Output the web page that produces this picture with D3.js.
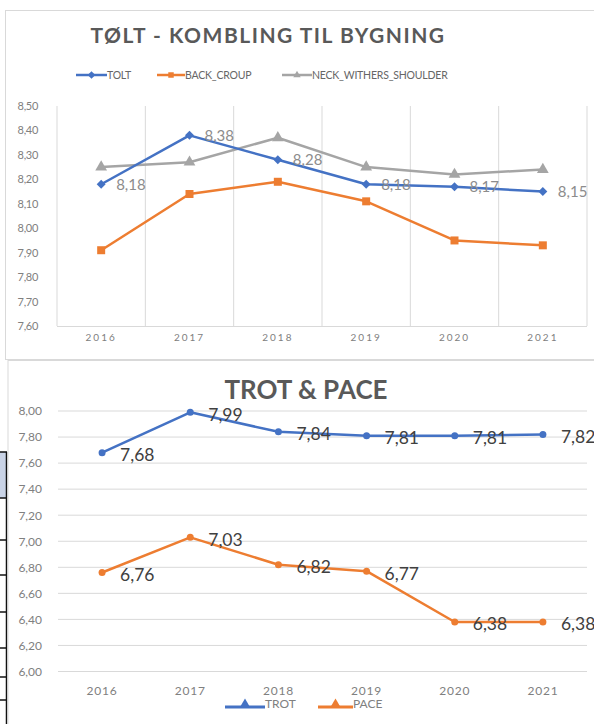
<!DOCTYPE html>
<html>
<head>
<meta charset="utf-8">
<script src="https://cdn.jsdelivr.net/npm/d3@7"></script>
<style>
html,body{margin:0;padding:0;background:#fff;}
svg{display:block;font-family:Lato,"Open Sans",sans-serif;}
</style>
</head>
<body>
<svg id="c" width="594" height="724"></svg>
<script>
// ---- data ----
const years = ["2016","2017","2018","2019","2020","2021"];
// top chart
const topTitle = "TØLT - KOMBLING TIL BYGNING";
const toltVals = [8.18, 8.38, 8.28, 8.18, 8.17, 8.15];
const backVals = [7.91, 8.14, 8.19, 8.11, 7.95, 7.93];
const neckVals = [8.25, 8.27, 8.37, 8.25, 8.22, 8.24];
const topTicks = [7.6, 7.7, 7.8, 7.9, 8.0, 8.1, 8.2, 8.3, 8.4, 8.5];
// bottom chart
const botTitle = "TROT & PACE";
const trotVals = [7.68, 7.99, 7.84, 7.81, 7.81, 7.82];
const paceVals = [6.76, 7.03, 6.82, 6.77, 6.38, 6.38];
const botTicks = [6.0, 6.2, 6.4, 6.6, 6.8, 7.0, 7.2, 7.4, 7.6, 7.8, 8.0];

const BLUE = "#4472c4", ORANGE = "#ed7d31", GRAY = "#a5a5a5";
const fmt = v => d3.format(".2f")(v).replace(".", ",");

const svg = d3.select("#c");

// left table fragment (background)
const frag = svg.append("g");
frag.append("rect").attr("x",0).attr("y",452).attr("width",6).attr("height",46).attr("fill","#c9d3e6");
frag.append("line").attr("x1",6.5).attr("x2",6.5).attr("y1",452).attr("y2",724).attr("stroke","#111").attr("stroke-width",1.5);
[452, 498, 540, 575, 612, 648, 677, 700].forEach(y => {
  frag.append("line").attr("x1",0).attr("x2",7).attr("y1",y).attr("y2",y).attr("stroke","#111").attr("stroke-width",1.5);
});

// chart frames
svg.append("rect").attr("x",5.5).attr("y",10.5).attr("width",600).attr("height",349).attr("fill","#fff").attr("stroke","#d9d9d9");
svg.append("rect").attr("x",8).attr("y",360.5).attr("width",600).attr("height",400).attr("fill","#fff").attr("stroke","#d9d9d9");

// ================= TOP CHART =================
const tx = d3.scaleBand().domain(years).range([57, 587]).padding(0);
const ty = d3.scaleLinear().domain([7.6, 8.5]).range([326, 106]);
const tcx = d => tx(d) + tx.bandwidth() / 2;

const topG = svg.append("g");
topG.append("text").attr("x",268).attr("y",43).attr("text-anchor","middle")
  .attr("font-size",21).attr("font-weight",700).attr("fill","#595959")
  .attr("letter-spacing","1.5px").text(topTitle);

// vertical gridlines at category boundaries
const bounds = years.map(y => tx(y)).concat([tx.range()[1]]);
topG.selectAll(".vg").data(bounds).enter().append("line")
  .attr("x1",d=>d).attr("x2",d=>d).attr("y1",ty(8.5)).attr("y2",ty(7.6))
  .attr("stroke","#d9d9d9").attr("stroke-width",1);
// x axis line
topG.append("line").attr("x1",57).attr("x2",587).attr("y1",ty(7.6)+0.5).attr("y2",ty(7.6)+0.5)
  .attr("stroke","#d9d9d9");

// y axis ticks
const tyAxis = d3.axisLeft(ty).tickValues(topTicks).tickFormat(fmt).tickSize(0).tickPadding(0);
const tyg = topG.append("g").attr("transform","translate(38,0)").call(tyAxis);
tyg.select(".domain").remove();
tyg.selectAll("text").attr("font-size",11).attr("fill","#808080").attr("font-family","Lato,sans-serif").attr("letter-spacing","-0.3px");

// x axis labels
const txAxis = d3.axisBottom(tx).tickSize(0).tickPadding(0);
const txg = topG.append("g").attr("transform","translate(0,334)").call(txAxis);
txg.select(".domain").remove();
txg.selectAll("text").attr("font-size",10).attr("fill","#808080").attr("font-family","Lato,sans-serif").attr("letter-spacing","2px").attr("dy","0.71em");

const line = (xs, ys) => d3.line().x((d,i)=>xs(years[i])).y(d=>ys(d));

function drawSeries(g, vals, color, width, xs, ys) {
  g.append("path").datum(vals).attr("d", line(xs, ys)).attr("fill","none")
    .attr("stroke",color).attr("stroke-width",width).attr("stroke-linejoin","round");
}
const square = d3.symbol().type(d3.symbolSquare);
const triangle = d3.symbol().type(d3.symbolTriangle);

drawSeries(topG, neckVals, GRAY, 2.5, tcx, ty);
drawSeries(topG, backVals, ORANGE, 2.5, tcx, ty);
drawSeries(topG, toltVals, BLUE, 2.5, tcx, ty);

topG.selectAll(".nm").data(neckVals).enter().append("path")
  .attr("d", triangle.size(60)()).attr("fill",GRAY)
  .attr("transform",(d,i)=>`translate(${tcx(years[i])},${ty(d)})`);
topG.selectAll(".bm").data(backVals).enter().append("path")
  .attr("d", square.size(64)()).attr("fill",ORANGE)
  .attr("transform",(d,i)=>`translate(${tcx(years[i])},${ty(d)})`);
topG.selectAll(".tm").data(toltVals).enter().append("path")
  .attr("d", square.size(40)()).attr("fill",BLUE)
  .attr("transform",(d,i)=>`translate(${tcx(years[i])},${ty(d)}) rotate(45)`);
// data labels (TOLT)
topG.selectAll(".tl").data(toltVals).enter().append("text")
  .attr("x",(d,i)=>tcx(years[i])+15).attr("y",(d)=>ty(d)).attr("dy","0.36em")
  .attr("font-size",15).attr("fill","#8c8c8c").text(fmt);

// top legend
const tLeg = [
  {name:"TOLT", color:BLUE, sym:square.size(18), rot:45, x1:76, x2:107},
  {name:"BACK_CROUP", color:ORANGE, sym:square.size(30), rot:0, x1:157, x2:185},
  {name:"NECK_WITHERS_SHOULDER", color:GRAY, sym:triangle.size(24), rot:0, x1:282, x2:312}
];
const tl = topG.selectAll(".lg").data(tLeg).enter().append("g");
tl.append("line").attr("x1",d=>d.x1).attr("x2",d=>d.x2).attr("y1",75).attr("y2",75)
  .attr("stroke",d=>d.color).attr("stroke-width",2.5);
tl.append("path").attr("d",d=>d.sym()).attr("fill",d=>d.color)
  .attr("transform",d=>`translate(${(d.x1+d.x2)/2},75) rotate(${d.rot})`);
tl.append("text").attr("x",d=>d.x2).attr("y",75).attr("dy","0.35em")
  .attr("font-size",10.5).attr("fill","#666").attr("letter-spacing","-0.2px").text(d=>d.name);

// ================= BOTTOM CHART =================
const bx = d3.scaleBand().domain(years).range([58, 587]).padding(0);
const by = d3.scaleLinear().domain([6.0, 8.0]).range([671.5, 411]);
const bcx = d => bx(d) + bx.bandwidth() / 2;

const botG = svg.append("g");
botG.append("text").attr("x",306).attr("y",399).attr("text-anchor","middle")
  .attr("font-size",26).attr("font-weight",700).attr("fill","#595959").text(botTitle);

// gridlines
botG.selectAll(".hg").data(botTicks).enter().append("line")
  .attr("x1",58).attr("x2",587).attr("y1",d=>by(d)).attr("y2",d=>by(d))
  .attr("stroke","#d9d9d9").attr("stroke-width",1);

const byAxis = d3.axisLeft(by).tickValues(botTicks).tickFormat(fmt).tickSize(0).tickPadding(0);
const byg = botG.append("g").attr("transform","translate(42,0)").call(byAxis);
byg.select(".domain").remove();
byg.selectAll("text").attr("font-size",12).attr("fill","#808080").attr("font-family","Lato,sans-serif");

const bxAxis = d3.axisBottom(bx).tickSize(0).tickPadding(0);
const bxg = botG.append("g").attr("transform","translate(0,686)").call(bxAxis);
bxg.select(".domain").remove();
bxg.selectAll("text").attr("font-size",12).attr("fill","#808080").attr("font-family","Lato,sans-serif").attr("letter-spacing","0.8px").attr("dy","0.71em");

drawSeries(botG, trotVals, BLUE, 2.5, bcx, by);
drawSeries(botG, paceVals, ORANGE, 2.5, bcx, by);
botG.selectAll(".trm").data(trotVals).enter().append("circle")
  .attr("cx",(d,i)=>bcx(years[i])).attr("cy",d=>by(d)).attr("r",3.5).attr("fill",BLUE);
botG.selectAll(".pm").data(paceVals).enter().append("circle")
  .attr("cx",(d,i)=>bcx(years[i])).attr("cy",d=>by(d)).attr("r",3.5).attr("fill",ORANGE);

botG.selectAll(".trl").data(trotVals).enter().append("text")
  .attr("x",(d,i)=>bcx(years[i])+18).attr("y",d=>by(d)+2).attr("dy","0.36em")
  .attr("font-size",17.5).attr("fill","#404040").text(fmt);
botG.selectAll(".pl").data(paceVals).enter().append("text")
  .attr("x",(d,i)=>bcx(years[i])+18).attr("y",d=>by(d)+2).attr("dy","0.36em")
  .attr("font-size",17.5).attr("fill","#404040").text(fmt);

// bottom legend
const bLeg = [
  {name:"TROT", color:BLUE, x1:225, x2:265},
  {name:"PACE", color:ORANGE, x1:318, x2:353}
];
const bl = botG.selectAll(".blg").data(bLeg).enter().append("g");
bl.append("line").attr("x1",d=>d.x1).attr("x2",d=>d.x2).attr("y1",707).attr("y2",707)
  .attr("stroke",d=>d.color).attr("stroke-width",3);
bl.append("path").attr("d",triangle.size(40)()).attr("fill",d=>d.color)
  .attr("transform",d=>`translate(${(d.x1+d.x2)/2},704)`);
bl.append("text").attr("x",d=>d.x2).attr("y",704).attr("dy","0.35em")
  .attr("font-size",12).attr("fill","#808080").text(d=>d.name);
</script>
</body>
</html>
